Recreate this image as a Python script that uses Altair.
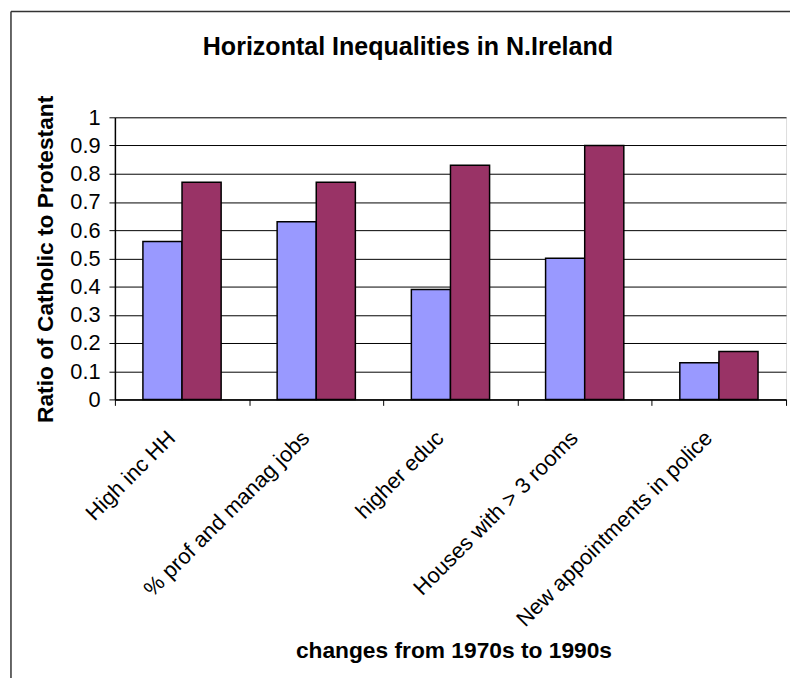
import altair as alt
import pandas as pd

categories = ["High inc HH", "% prof and manag jobs", "higher educ",
              "Houses with > 3 rooms", "New appointments in police"]
series = ["1970s", "1990s"]
values_1970s = [0.56, 0.63, 0.39, 0.50, 0.13]
values_1990s = [0.77, 0.77, 0.83, 0.90, 0.17]
y_ticks = [0, 0.1, 0.2, 0.3, 0.4, 0.5, 0.6, 0.7, 0.8, 0.9, 1.0]
colors = ["#9999FF", "#993366"]

rows = []
for c, a, b in zip(categories, values_1970s, values_1990s):
    rows.append({"category": c, "period": series[0], "ratio": a})
    rows.append({"category": c, "period": series[1], "ratio": b})
df = pd.DataFrame(rows)

FONT = "Liberation Sans"
W, H = 678, 285

bars = alt.Chart(df).mark_bar(stroke="black", strokeWidth=1.5).encode(
    x=alt.X("category:N", sort=categories,
            scale=alt.Scale(paddingInner=0, paddingOuter=0),
            axis=alt.Axis(title="changes from 1970s to 1990s",
                          labelAngle=-45, labelAlign="right",
                          labelBaseline="alphabetic", labelPadding=34,
                          labelOffset=-6, labelFontSize=22,
                          labelColor="black", labelFont=FONT,
                          tickBand="extent", tickSize=6, tickColor="black",
                          domainColor="black", domainWidth=1.5,
                          titleFontSize=23, titleFont=FONT,
                          titleFontWeight="bold", titleColor="black",
                          titleAlign="center", titleBaseline="alphabetic",
                          titleX=342, titleY=261,
                          labelLimit=400)),
    xOffset=alt.XOffset("period:N", sort=series,
                        scale=alt.Scale(paddingInner=0, paddingOuter=0.716)),
    y=alt.Y("ratio:Q", scale=alt.Scale(domain=[0, 1], nice=False),
            axis=alt.Axis(title="Ratio of Catholic to Protestant",
                          values=y_ticks, format=".1~f",
                          labelFontSize=22, labelFont=FONT,
                          labelColor="black", labelPadding=9,
                          tickSize=6, tickColor="black",
                          domainColor="black", domainWidth=1.5,
                          grid=True, gridColor="black", gridWidth=1,
                          titleFontSize=23, titleFont=FONT,
                          titleFontWeight="bold", titleColor="black",
                          titleAngle=-90, titleAlign="center",
                          titleBaseline="alphabetic",
                          titleX=-63, titleY=143)),
    color=alt.Color("period:N", sort=series,
                    scale=alt.Scale(domain=series, range=colors),
                    legend=None),
)

frame_data = alt.Data(values=[{"k": 1}])
frame_top = alt.Chart(frame_data).mark_rule(color="#333333", strokeWidth=1.5).encode(
    x=alt.value(-105), x2=alt.value(W + 8), y=alt.value(-107))
frame_left = alt.Chart(frame_data).mark_rule(color="#333333", strokeWidth=1.5).encode(
    x=alt.value(-105), y=alt.value(-107), y2=alt.value(H + 290))

chart = alt.layer(bars, frame_top, frame_left).properties(
    width=W, height=H,
    autosize=alt.AutoSizeParams(type="none"),
    padding={"left": 108, "top": 107, "right": 4, "bottom": 278},
    title=alt.TitleParams("Horizontal Inequalities in N.Ireland",
                          fontSize=25.3, font=FONT, fontWeight="bold",
                          color="black", anchor="middle", dx=-43, offset=-50),
).configure_view(
    fill="#C0C0C0", stroke="#808080", strokeWidth=1.5
).configure(background="white")

chart.save("out.html", embed_options={"renderer": "svg", "actions": False})
